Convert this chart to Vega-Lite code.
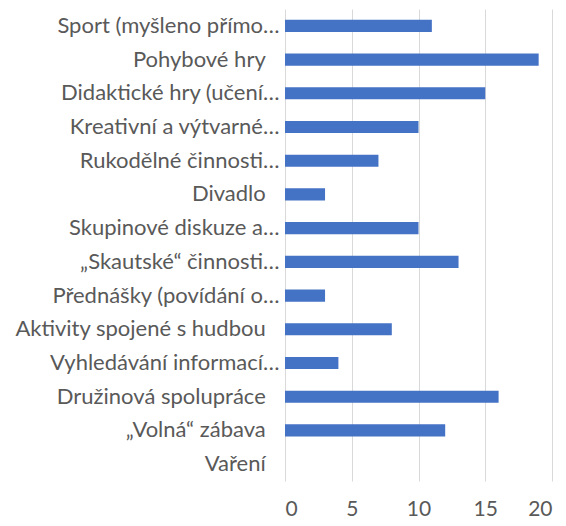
{
  "$schema": "https://vega.github.io/schema/vega-lite/v6.json",
  "autosize": {"type": "none"},
  "width": 267,
  "height": 472,
  "padding": {"left": 285, "top": 9, "right": 14, "bottom": 45},
  "background": "white",
  "data": {
    "values": [
      {"kategorie": "Sport (myšleno přímo…", "pocet": 11},
      {"kategorie": "Pohybové hry\u2002\u2009\u200b", "pocet": 19},
      {"kategorie": "Didaktické hry (učení…", "pocet": 15},
      {"kategorie": "Kreativní a výtvarné…", "pocet": 10},
      {"kategorie": "Rukodělné činnosti…", "pocet": 7},
      {"kategorie": "Divadlo\u2002\u2009\u200b", "pocet": 3},
      {"kategorie": "Skupinové diskuze a…", "pocet": 10},
      {"kategorie": "„Skautské“ činnosti…", "pocet": 13},
      {"kategorie": "Přednášky (povídání o…", "pocet": 3},
      {"kategorie": "Aktivity spojené s hudbou\u2002\u2009\u200b", "pocet": 8},
      {"kategorie": "Vyhledávání informací…", "pocet": 4},
      {"kategorie": "Družinová spolupráce\u2002\u2009\u200b", "pocet": 16},
      {"kategorie": "„Volná“ zábava\u2002\u2009\u200b", "pocet": 12},
      {"kategorie": "Vaření\u2002\u2009\u200b", "pocet": 0}
    ]
  },
  "mark": {"type": "bar", "color": "#4472C4"},
  "encoding": {
    "y": {
      "field": "kategorie",
      "type": "nominal",
      "sort": null,
      "title": null,
      "scale": {"paddingInner": 0.64, "paddingOuter": 0.32},
      "axis": {
        "domain": false,
        "ticks": false,
        "labelFont": "Lato",
        "labelFontSize": 22,
        "labelColor": "#595959",
        "labelPadding": 6,
        "labelLimit": 300,
        "grid": false
      }
    },
    "x": {
      "field": "pocet",
      "type": "quantitative",
      "title": null,
      "scale": {"domain": [0, 20], "nice": false},
      "axis": {
        "values": [0, 5, 10, 15, 20],
        "domain": false,
        "ticks": false,
        "grid": true,
        "gridColor": "#d9d9d9",
        "gridWidth": 1,
        "labelFont": "Lato",
        "labelFontSize": 21,
        "labelColor": "#595959",
        "labelPadding": 17
      }
    }
  },
  "config": {"view": {"stroke": null}}
}
